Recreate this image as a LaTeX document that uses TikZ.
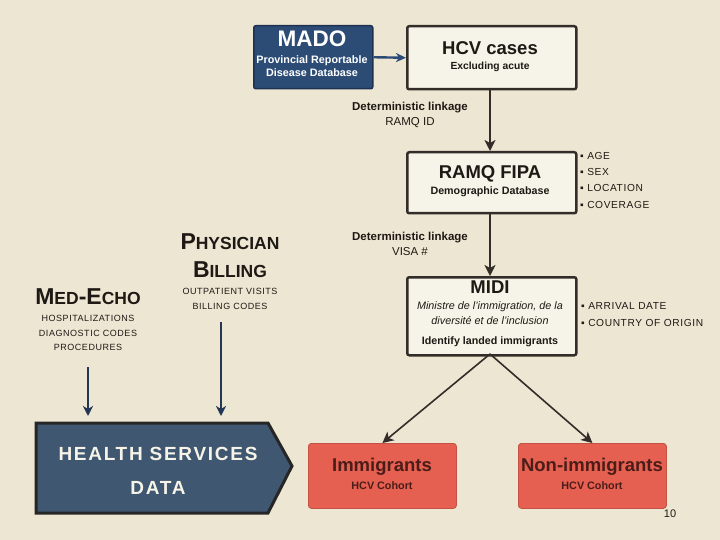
\documentclass[tikz,border=0pt]{standalone}
\usepackage{fontspec}
\setmainfont{Liberation Sans}
\usetikzlibrary{arrows.meta}
\definecolor{bg}{RGB}{237,230,211}
\definecolor{madoblue}{RGB}{44,76,118}
\definecolor{madoedge}{RGB}{30,50,80}
\definecolor{boxfill}{RGB}{246,243,232}
\definecolor{boxedge}{RGB}{50,45,40}
\definecolor{redfill}{RGB}{229,96,80}
\definecolor{redtext}{RGB}{75,28,24}
\definecolor{hsdfill}{RGB}{64,87,113}
\definecolor{txt}{RGB}{30,25,20}
\definecolor{arrowblue}{RGB}{35,55,85}
\tikzset{
  wbox/.style={draw=boxedge, line width=2.5pt, fill=boxfill, rounded corners=2pt, minimum width=169pt, align=center, inner sep=0pt},
  rbox/.style={draw=redfill!85!black, line width=0.8pt, fill=redfill, rounded corners=3pt, minimum width=148pt, minimum height=65pt, align=center, text=redtext},
  darrow/.style={-{Stealth[length=11pt,width=11pt,inset=3pt]}, line width=1.6pt, draw=boxedge},
  barrow/.style={-{Stealth[length=10pt,width=10pt,inset=3pt]}, line width=2.2pt, draw=arrowblue},
  lbl/.style={align=center, text=txt, font=\fontsize{11.5}{15}\selectfont},
  bul/.style={anchor=west, text=txt, font=\fontsize{10.2}{11}\selectfont\addfontfeature{LetterSpace=6}, inner sep=0pt},
  caps/.style={align=center, text=txt, font=\fontsize{9}{14.5}\selectfont\addfontfeature{LetterSpace=6}, inner sep=0pt},
  btitle/.style={text=txt, font=\bfseries\fontsize{18.5}{20}\selectfont},
  bsub/.style={text=txt, font=\bfseries\fontsize{10.7}{12}\selectfont}
}
\begin{document}
\begin{tikzpicture}[x=1pt,y=-1pt]
\fill[bg] (0,0) rectangle (720,540);
\useasboundingbox (0,0) rectangle (720,540);

% MADO
\node[draw=madoedge, line width=1.5pt, fill=madoblue, rounded corners=2pt, minimum width=119pt, minimum height=63pt, anchor=north west, inner sep=0pt] (mado) at (253,25) {};
\node[text=white, font=\bfseries\fontsize{22.5}{24}\selectfont] (madot) at (312,39) {MADO};
\node[text=white, align=center, font=\bfseries\fontsize{10.8}{13}\selectfont] (madod) at (312,66) {Provincial Reportable\\Disease Database};

% HCV
\node[wbox, minimum height=63pt, anchor=north west] (hcv) at (406,25) {};
\node[btitle] at (490,48) {HCV cases};
\node[bsub, font=\bfseries\fontsize{10.3}{12}\selectfont] at (490,67) {Excluding acute};

\draw[-{Stealth[length=10pt,width=9pt,inset=3pt]}, line width=2.4pt, draw=madoblue] (mado.east) -- (hcv.west);

% RAMQ FIPA
\node[wbox, minimum height=61pt, anchor=north west] (fipa) at (406,151) {};
\node[btitle] at (490,174) {RAMQ FIPA};
\node[bsub] at (490,192) {Demographic Database};

\draw[darrow] (hcv.south -| 490,0) -- (fipa.north -| 490,0);
\node[lbl] (l1) at (410,115) {\textbf{Deterministic linkage}\\RAMQ ID};

\node[bul] (b1) at (580,156) {▪ AGE};
\node[bul] (b2) at (580,172) {▪ SEX};
\node[bul] (b3) at (580,188) {▪ LOCATION};
\node[bul] (b4) at (580,205) {▪ COVERAGE};

% MIDI
\node[wbox, minimum height=78pt, anchor=north west] (midi) at (406,276) {};
\node[btitle] at (490,287) {MIDI};
\node[text=txt, align=center, font=\itshape\fontsize{10.8}{15}\selectfont] at (490,313) {Ministre de l'immigration, de la\\diversité et de l'inclusion};
\node[bsub] at (490,342) {Identify landed immigrants};

\draw[darrow] (fipa.south -| 490,0) -- (midi.north -| 490,0);
\node[lbl] (l2) at (410,244) {\textbf{Deterministic linkage}\\VISA \#};

\node[bul] (b5) at (581,306) {▪ ARRIVAL DATE};
\node[bul] (b6) at (581,323) {▪ COUNTRY OF ORIGIN};

% Outcome boxes
\node[rbox, anchor=north west] (imm) at (308,443) {};
\node[text=redtext, font=\bfseries\fontsize{18.5}{20}\selectfont] at (382,467) {Immigrants};
\node[text=redtext, font=\bfseries\fontsize{10.8}{12}\selectfont] at (382,486) {HCV Cohort};
\node[rbox, anchor=north west] (non) at (518,443) {};
\node[text=redtext, font=\bfseries\fontsize{18.5}{20}\selectfont] at (592,467) {Non-immigrants};
\node[text=redtext, font=\bfseries\fontsize{10.8}{12}\selectfont] at (592,486) {HCV Cohort};

\coordinate (ms) at (490,354);
\draw[darrow] (ms) -- (imm.north);
\draw[darrow] (ms) -- (non.north);

\node[text=txt, font=\fontsize{11}{12}\selectfont] (pg) at (670,514) {10};

% Physician billing
\node[text=txt, align=center, font=\bfseries\fontsize{23}{28}\selectfont] (pb) at (230,256) {P{\fontsize{17.5}{17}\selectfont HYSICIAN}\\B{\fontsize{17.5}{17}\selectfont ILLING}};
\node[caps] (pbd) at (230,299) {OUTPATIENT VISITS\\BILLING CODES};

% Med-Echo
\node[text=txt, font=\bfseries\fontsize{23}{24}\selectfont] (me) at (88,297) {M{\fontsize{17.5}{17}\selectfont ED}-E{\fontsize{17.5}{17}\selectfont CHO}};
\node[caps] (med) at (88,333) {HOSPITALIZATIONS\\DIAGNOSTIC CODES\\PROCEDURES};

% Health services data
\draw[draw=black!85, line width=3pt, fill=hsdfill, line join=miter]
  (36,423) -- (268,423) -- (292,466) -- (268,513) -- (36,513) -- cycle;
\node[text=boxfill, align=center, font=\bfseries\fontsize{19}{34}\selectfont\addfontfeature{LetterSpace=9}] (hsd) at (158,471) {HEALTH SERVICES\\DATA};
\coordinate (hsdA) at (88,416);
\coordinate (hsdB) at (221,416);
\coordinate (meS) at (88,367);
\coordinate (pbS) at (221,322);
\draw[barrow] (meS) -- (hsdA);
\draw[barrow] (pbS) -- (hsdB);
\end{tikzpicture}
\end{document}
